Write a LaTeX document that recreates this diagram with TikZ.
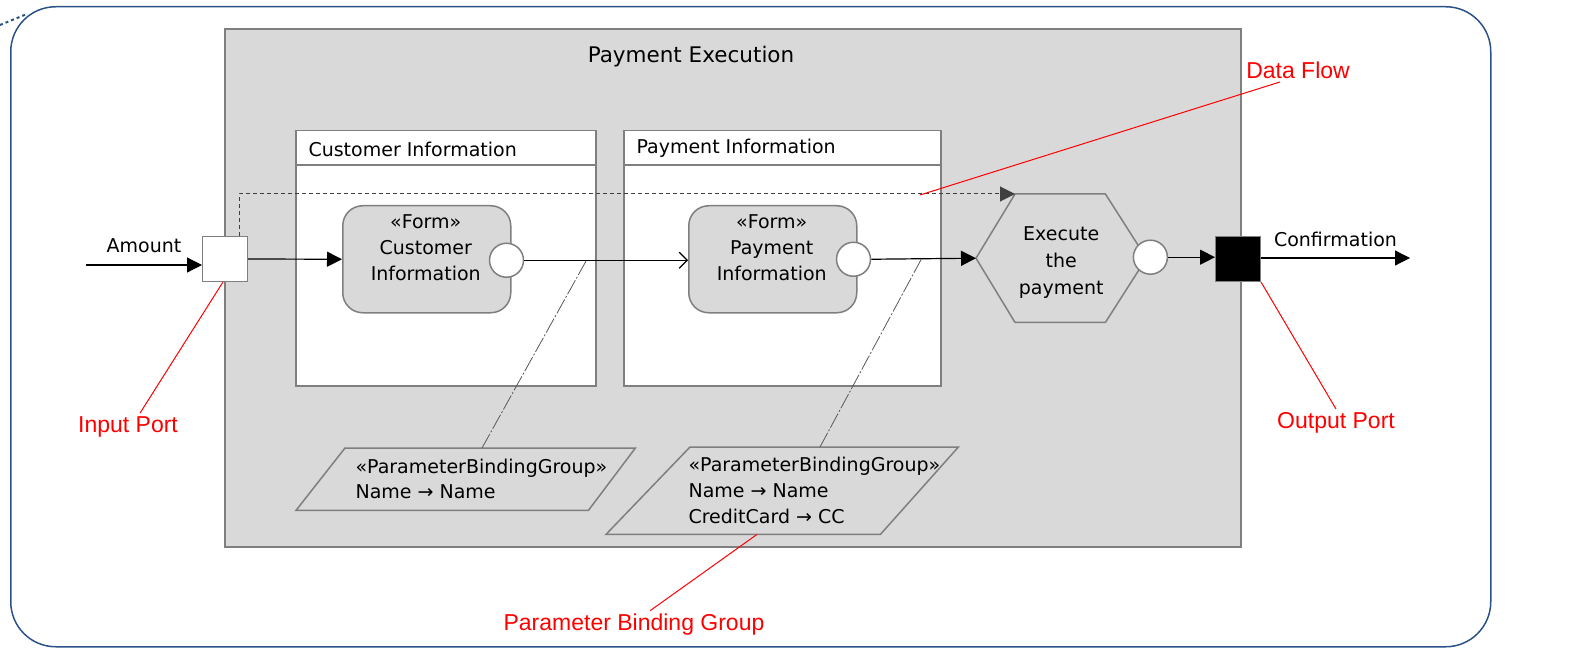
\documentclass[tikz,border=0pt]{standalone}
\usepackage{fontspec}
\setmainfont{DejaVu Sans}
\newfontfamily\annofont{Liberation Sans}
\usetikzlibrary{shapes, arrows.meta, positioning, calc}

\definecolor{frameblue}{HTML}{2B5287}
\definecolor{boxgray}{HTML}{D9D9D9}
\definecolor{linegray}{HTML}{7F7F7F}
\definecolor{bindgray}{HTML}{595959}

\begin{document}
\begin{tikzpicture}[x=1pt, y=-1pt, font=\fontsize{19}{26}\selectfont,
	part/.style={draw=linegray, line width=1.5pt, fill=white, anchor=north west, inner sep=0pt},
	form/.style={draw=linegray, line width=1.5pt, fill=boxgray, rounded corners=20pt, anchor=north west, minimum width=168pt, minimum height=107pt},
	outpin/.style={circle, draw=linegray, line width=1.5pt, fill=white, minimum size=34pt, inner sep=0pt},
	port/.style={draw=linegray, line width=1pt, minimum size=45pt, anchor=north west, inner sep=0pt},
	pbg/.style={inner sep=0pt, anchor=north west},
	edge/.style={draw=linegray, line width=1.5pt},
	flow/.style={line width=1.2pt, -{Triangle[length=15pt, width=15pt]}},
	bind/.style={draw=bindgray, line width=0.8pt, dash pattern=on 16pt off 2pt on 2pt off 2pt},
	anno/.style={red, line width=1pt},
	annotxt/.style={red, font=\annofont\fontsize{23}{27}\selectfont}]
	\useasboundingbox (0,0) rectangle (1573,652);

	\coordinate (frame)    at (10, 6);
	\coordinate (exec)     at (224, 28);
	\coordinate (custpart) at (295, 130);
	\coordinate (paypart)  at (623, 130);
	\coordinate (custform) at (342, 205);
	\coordinate (payform)  at (688, 205);
	\coordinate (action)   at (976, 194);
	\coordinate (inport)   at (202, 236);
	\coordinate (outport)  at (1215, 236);
	\coordinate (binding1) at (296, 448);
	\coordinate (binding2) at (606, 447);
	\coordinate (amount)   at (86, 265);
	\coordinate (confirm)  at (1410, 258);
	\coordinate (dfpt)     at (920, 195);

	\node[draw=frameblue, line width=1.5pt, rounded corners=45pt, minimum width=1480pt, minimum height=640pt, anchor=north west] (FRM) at (frame) {};
	\draw[frameblue, line width=2pt, dashed] (0,25) -- (27,14);

	\node[draw=linegray, line width=2pt, fill=boxgray, minimum width=1016pt, minimum height=518pt, anchor=north west] (EXE) at (exec) {};
	\node[font=\fontsize{21.5}{26}\selectfont] (TTL) at ($(EXE.north)+(-42,29)$) {Payment Execution};

	\node[part, minimum width=300pt, minimum height=255pt] (CIP) at (custpart) {};
	\node[part, minimum width=317pt, minimum height=255pt] (PIP) at (paypart) {};
	\draw[edge] ($(CIP.north west)+(0,35)$) -- ($(CIP.north east)+(0,35)$);
	\draw[edge] ($(PIP.north west)+(0,35)$) -- ($(PIP.north east)+(0,35)$);
	\node[anchor=west] (CIH) at ($(CIP.north west)+(10,19)$) {Customer Information};
	\node[anchor=west] (PIH) at ($(PIP.north west)+(10,18)$) {Payment Information};

	\node[form] (CUF) at (custform) {};
	\node[align=center] (CUT) at ($(CUF.center)+(-1,-12)$) {«Form»\\Customer\\Information};
	\node[outpin] (CUP) at ($(CUF.east)+(-5,1)$) {};
	\node[form] (PAF) at (payform) {};
	\node[align=center] (PAT) at ($(PAF.center)+(-1,-12)$) {«Form»\\Payment\\Information};
	\node[outpin] (PAP) at ($(PAF.east)+(-4,0)$) {};

	\node[minimum width=170pt, minimum height=128pt, inner sep=0pt, anchor=north west] (ACT) at (action) {};
	\coordinate (ACTtl) at ($(ACT.north west)+(39,0)$);
	\draw[edge] (ACT.west) -- (ACTtl) -- ($(ACT.north east)+(-41,0)$) -- (ACT.east) -- ($(ACT.south east)+(-41,0)$) -- ($(ACT.south west)+(39,0)$) -- cycle;
	\node[align=center, font=\fontsize{19}{27}\selectfont] (ACTT) at ($(ACT.center)+(0,4)$) {Execute\\the\\payment};
	\node[outpin] (ACP) at ($(ACT.east)+(4,-1)$) {};

	\node[port, fill=white] (INP) at (inport) {};
	\node[port, fill=black] (OUTP) at (outport) {};

	\node[pbg, minimum width=339pt, minimum height=62pt] (PBG1) at (binding1) {};
	\draw[edge] (PBG1.south west) -- ($(PBG1.north west)+(49,0)$) -- (PBG1.north east) -- ($(PBG1.south east)+(-47,0)$) -- cycle;
	\node[align=left, anchor=west, font=\fontsize{19}{25}\selectfont] (PBT1) at ($(PBG1.west)+(56,0)$) {«ParameterBindingGroup»\\Name → Name};
	\node[pbg, minimum width=352pt, minimum height=87pt] (PBG2) at (binding2) {};
	\draw[edge] (PBG2.south west) -- ($(PBG2.north west)+(84,0)$) -- (PBG2.north east) -- ($(PBG2.south east)+(-78,0)$) -- cycle;
	\node[align=left, anchor=west, font=\fontsize{19}{26}\selectfont] (PBT2) at ($(PBG2.west)+(79,0)$) {«ParameterBindingGroup»\\Name → Name\\CreditCard → CC};

	\draw[flow] (amount) -- node[above=8pt] (AMT) {Amount} (amount -| INP.west);
	\draw[flow] (INP.east) -- (CUF.west);
	\draw[line width=1.2pt, -{Straight Barb[length=8pt, width=16pt]}] (CUP.east) -- (CUP.east -| PAF.west);
	\draw[flow] (PAP.east) -- (ACT.west);
	\draw[flow] (ACP.east) -- (ACP.east -| OUTP.west);
	\draw[flow] (OUTP.east |- confirm) -- node[above=7pt] (CNF) {Confirmation} (confirm);
	\draw[darkgray, line width=1pt, dash pattern=on 4pt off 3pt, -{Triangle[length=15pt, width=15pt]}] ($(INP.north)+(14,0)$) |- (ACTtl);

	\draw[bind] ($(PBG1.north west)+(186,0)$) -- ($(CUP.east)!0.38!(CUP.east -| PAF.west)$);
	\draw[bind] ($(PBG2.north west)+(214,0)$) -- ($(PAP.east)!0.48!(ACT.west)$);

	\node[annotxt] (DFL) at (1298, 70) {Data Flow};
	\draw[anno] ($(DFL.south)+(-18,0)$) -- (dfpt);
	\node[annotxt] (IPL) at (128, 427) {Input Port};
	\draw[anno] ($(IPL.north)+(12,0)$) -- ($(INP.south)+(-2,0)$);
	\node[annotxt] (OPL) at (1336, 423) {Output Port};
	\draw[anno] (OPL.north) -- (OUTP.south east);
	\node[annotxt] (PBL) at (634, 625) {Parameter Binding Group};
	\draw[anno] ($(PBL.north)+(16,0)$) -- ($(PBG2.south west)+(151,0)$);
\end{tikzpicture}
\end{document}
